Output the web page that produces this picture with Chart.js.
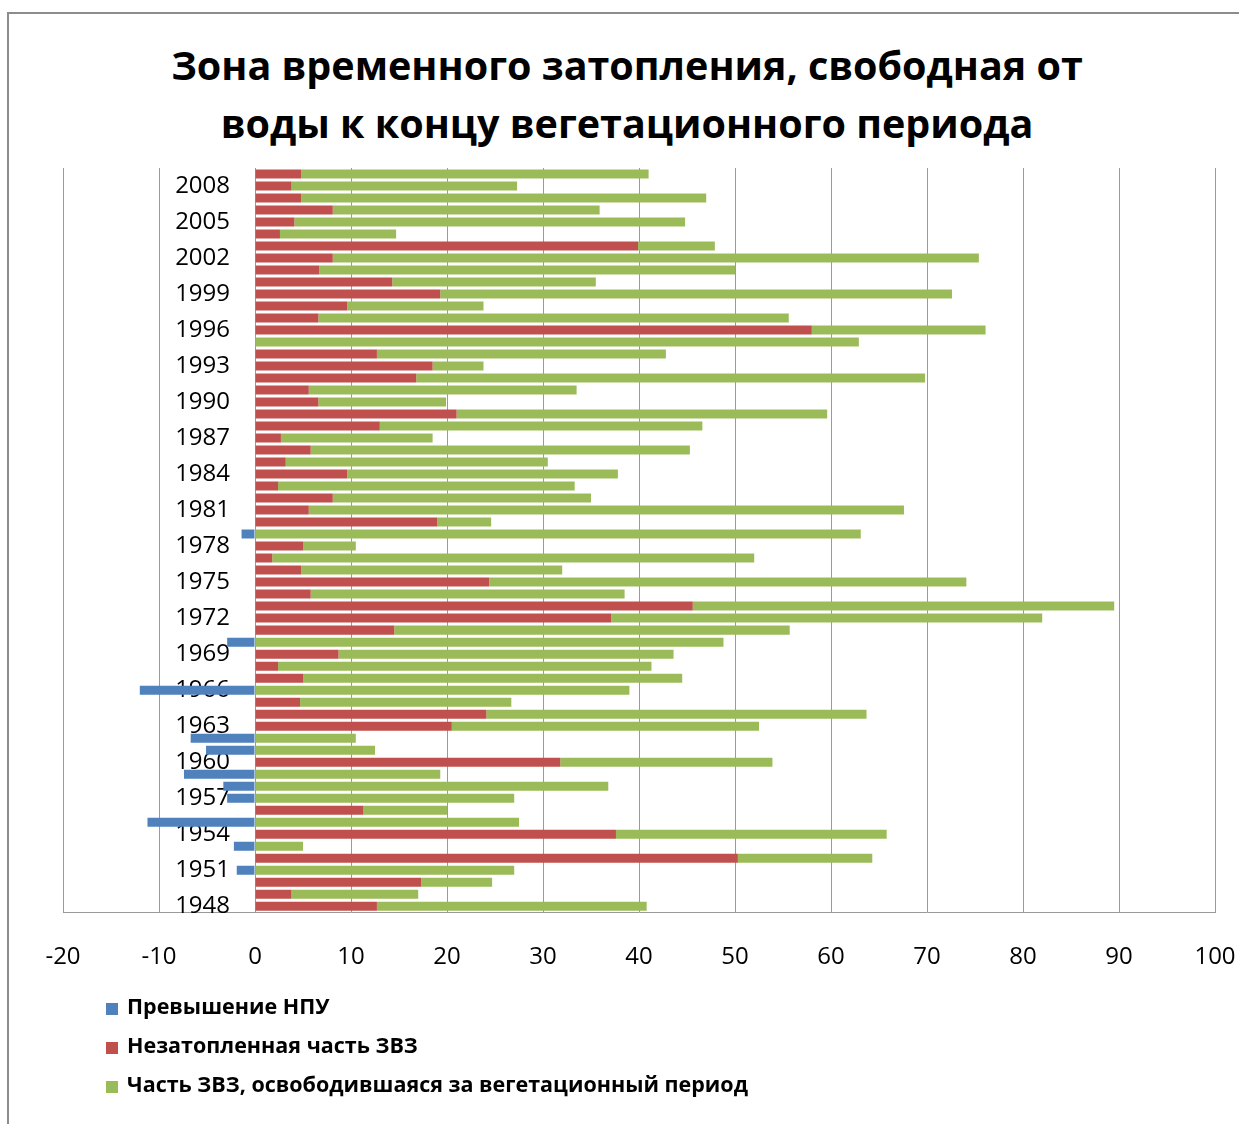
<!DOCTYPE html>
<html>
<head>
<meta charset="utf-8">
<script src="https://cdn.jsdelivr.net/npm/chart.js@4.4.1/dist/chart.umd.min.js"></script>
<style>
    html, body { margin: 0; padding: 0; background: #fff; overflow: hidden; }
    #frame {
        position: absolute; left: 7px; top: 12px; width: 1260px; height: 1140px;
        border-left: 2px solid #8c8c8c; border-top: 2px solid #8c8c8c;
    }
    #title {
        position: absolute; left: 7px; top: 36px; width: 1240px; text-align: center;
        font-family: 'Open Sans', sans-serif; font-weight: 700; font-size: 39.5px;
        line-height: 58px; color: #000;
    }
    #chart { position: absolute; left: 9px; top: 14px; }
    #legend {
        position: absolute; left: 106px; top: 986px;
        font-family: 'Open Sans', sans-serif; font-weight: 700; font-size: 21.5px; color: #000;
    }
    .item { height: 39px; line-height: 39px; white-space: nowrap; }
    .box { display: inline-block; width: 12px; height: 12px; margin-right: 9px; vertical-align: -1px; }
</style>
</head>
<body>
<div id="frame"></div>
<div id="title"></div>
<canvas id="chart" width="1240" height="990"></canvas>
<div id="legend"></div>

<script>
// Years on the category axis (bottom to top)
const years = [];
for (let y = 1948; y <= 2009; y++) years.push(String(y));

// Превышение НПУ (negative values)
const overNPU = [
    0, 0, 0, -1.9, 0, -2.2, 0, -11.2, 0, -2.9,        // 1948-1957
    -3.3, -7.4, 0, -5.1, -6.7, 0, 0, 0, -12.0, 0,     // 1958-1967
    0, 0, -2.9, 0, 0, 0, 0, 0, 0, 0,                  // 1968-1977
    0, -1.4, 0, 0, 0, 0, 0, 0, 0, 0,                  // 1978-1987
    0, 0, 0, 0, 0, 0, 0, 0, 0, 0,                     // 1988-1997
    0, 0, 0, 0, 0, 0, 0, 0, 0, 0,                     // 1998-2007
    0, 0                                              // 2008-2009
];

// Незатопленная часть ЗВЗ
const unflooded = [
    12.7, 3.8, 17.3, 0, 50.3, 0, 37.6, 0, 11.3, 0,     // 1948-1957
    0, 0, 31.8, 0, 0, 20.5, 24.1, 4.7, 0, 5.0,         // 1958-1967
    2.4, 8.7, 0, 14.5, 37.1, 45.6, 5.8, 24.4, 4.8, 1.8, // 1968-1977
    5.0, 0, 19.0, 5.6, 8.1, 2.4, 9.6, 3.2, 5.8, 2.7,   // 1978-1987
    13.0, 21.0, 6.6, 5.6, 16.8, 18.5, 12.7, 0, 58.0, 6.6, // 1988-1997
    9.6, 19.3, 14.3, 6.7, 8.1, 39.9, 2.6, 4.1, 8.1, 4.8,  // 1998-2007
    3.8, 4.8                                           // 2008-2009
];

// Часть ЗВЗ, освободившаяся за вегетационный период
const freed = [
    28.1, 13.2, 7.4, 27.0, 14.0, 5.0, 28.2, 27.5, 8.7, 27.0,    // 1948-1957
    36.8, 19.3, 22.1, 12.5, 10.5, 32.0, 39.6, 22.0, 39.0, 39.5, // 1958-1967
    38.9, 34.9, 48.8, 41.2, 44.9, 43.9, 32.7, 49.7, 27.2, 50.2, // 1968-1977
    5.5, 63.1, 5.6, 62.0, 26.9, 30.9, 28.2, 27.3, 39.5, 15.8,   // 1978-1987
    33.6, 38.6, 13.3, 27.9, 53.0, 5.3, 30.1, 62.9, 18.1, 49.0,  // 1988-1997
    14.2, 53.3, 21.2, 43.3, 67.3, 8.0, 12.1, 40.7, 27.8, 42.2,  // 1998-2007
    23.5, 36.2                                                  // 2008-2009
];

const seriesNames = [
    'Превышение НПУ',
    'Незатопленная часть ЗВЗ',
    'Часть ЗВЗ, освободившаяся за вегетационный период'
];
const seriesColors = ['#4f81bd', '#c0504d', '#9bbb59'];

const titleLines = [
    'Зона временного затопления, свободная от',
    'воды к концу вегетационного периода'
];

const fontFamily = "'Open Sans', sans-serif";
const gridColor = '#9a9a9a';

// Title is centred on the whole frame, not the plot, so it lives outside the canvas
document.getElementById('title').innerHTML = titleLines.join('<br>');

const ctx = document.getElementById('chart').getContext('2d');
const chart = new Chart(ctx, {
    type: 'bar',
    data: {
        labels: years,
        datasets: [overNPU, unflooded, freed].map((values, i) => ({
            label: seriesNames[i],
            data: values,
            backgroundColor: seriesColors[i],
            borderWidth: 0,
            barPercentage: 0.75,
            categoryPercentage: 1.0
        }))
    },
    options: {
        indexAxis: 'y',
        responsive: false,
        animation: false,
        devicePixelRatio: 1,
        layout: {
            padding: { left: 54, right: 34, top: 154, bottom: 29 }
        },
        scales: {
            x: {
                stacked: true,
                min: -20,
                max: 100,
                ticks: {
                    stepSize: 10,
                    padding: 3,
                    color: '#000',
                    font: { family: fontFamily, size: 24 }
                },
                // invisible tick marks push the labels down without widening the side padding
                grid: { color: gridColor, lineWidth: 1, drawTicks: true, tickLength: 28, tickColor: 'rgba(0,0,0,0)' },
                border: { color: gridColor }
            },
            y: {
                stacked: true,
                reverse: true,
                // axis crosses near zero; padding is ignored for object positions,
                // so shift it a bit left to leave a gap before the bars
                position: { x: -2.6 },
                grid: { display: false, drawTicks: false },
                border: { display: false },
                ticks: {
                    autoSkip: false,
                    color: '#000',
                    font: { family: fontFamily, size: 24 },
                    callback: (value, index) => (index % 3 === 0 ? years[index] : '')
                }
            }
        },
        plugins: {
            legend: { display: false },
            tooltip: { enabled: false },
            title: { display: false }
        }
    }
});

// Vertical legend under the chart, like the Excel original
const legendEl = document.getElementById('legend');
chart.data.datasets.forEach(ds => {
    const row = document.createElement('div');
    row.className = 'item';
    row.innerHTML = `<span class="box" style="background:${ds.backgroundColor}"></span>${ds.label}`;
    legendEl.appendChild(row);
});
</script>
</body>
</html>
